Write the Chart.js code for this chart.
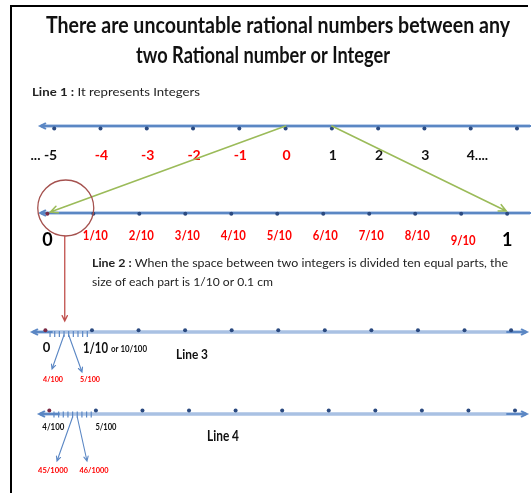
<!DOCTYPE html>
<html>
<head>
<meta charset="utf-8">
<script src="https://cdn.jsdelivr.net/npm/chart.js@4"></script>
<style>
  html, body { margin: 0; padding: 0; background: #fff; }
  canvas { display: block; }
</style>
</head>
<body>
<canvas id="chart" width="531" height="493"></canvas>
<script>
// Line 1: integers
const intValues = [-5, -4, -3, -2, -1, 0, 1, 2, 3, 4, 5];
const intLabelValues = [-5, -4, -3, -2, -1, 0, 1, 2, 3, 4];
const intLabels = ['-5', '-4', '-3', '-2', '-1', '0', '1', '2', '3', '4....'];
const intRed = [false, true, true, true, true, true, false, false, false, false];

// Line 2: tenths between 0 and 1 (units of 1/10)
const tenthValues = [0, 1, 2, 3, 4, 5, 6, 7, 8, 9, 10];
const tenthLabels = ['0', '1/10', '2/10', '3/10', '4/10', '5/10', '6/10', '7/10', '8/10', '9/10', '1'];

// Line 3: hundredths (units of 1/100)
const line3Dots = [0, 10, 20, 30, 40, 50, 60, 70, 80, 90, 100];
const line3Ticks = [1, 2, 3, 4, 5, 6, 7, 8, 9];
const line3Zoom = [4, 5];
const line3ZoomLabels = ['4/100', '5/100'];

// Line 4: thousandths (units of 1/1000)
const line4Dots = [40, 50, 60, 70, 80, 90, 100, 110, 120, 130, 140];
const line4Ticks = [41, 42, 43, 44, 45, 46, 47, 48, 49];
const line4Zoom = [45, 46];
const line4ZoomLabels = ['45/1000', '46/1000'];

const FONT = 'Lato, "Open Sans", sans-serif';
const ROW = [126, 213, 332, 414];
const BLUE = '#5b87c4';
const DOT = '#2b4a80';
const DOT_RED = '#7a2a45';
const GREEN = '#9bbb59';
const RED = '#ff0000';

function txt(ctx, str, x, y, o) {
    ctx.save();
    ctx.font = (o.bold ? 'bold ' : '') + o.size + 'px ' + FONT;
    ctx.fillStyle = o.color || '#000';
    ctx.textBaseline = 'alphabetic';
    ctx.textAlign = o.align || 'left';
    const w = ctx.measureText(str).width;
    const sx = o.width ? o.width / w : 1;
    ctx.translate(x, y);
    ctx.scale(sx, 1);
    ctx.fillText(str, 0, 0);
    ctx.restore();
}

// bold label followed by regular text, squeezed to a given width
function runs(ctx, parts, x, y, size, width) {
    ctx.save();
    const widths = parts.map(p => {
        ctx.font = (p.bold ? 'bold ' : '') + size + 'px ' + FONT;
        return ctx.measureText(p.t).width;
    });
    const sx = width / widths.reduce((a, b) => a + b, 0);
    ctx.translate(x, y);
    ctx.scale(sx, 1);
    let cx = 0;
    parts.forEach((p, i) => {
        ctx.font = (p.bold ? 'bold ' : '') + size + 'px ' + FONT;
        ctx.fillStyle = '#222';
        ctx.fillText(p.t, cx, 0);
        cx += widths[i];
    });
    ctx.restore();
}

function arrow(ctx, x1, y1, x2, y2, color, lw, head) {
    const a = Math.atan2(y2 - y1, x2 - x1);
    ctx.save();
    ctx.strokeStyle = color;
    ctx.lineWidth = lw;
    ctx.lineCap = 'round';
    ctx.beginPath();
    ctx.moveTo(x1, y1);
    ctx.lineTo(x2, y2);
    ctx.moveTo(x2 - head * Math.cos(a - 0.45), y2 - head * Math.sin(a - 0.45));
    ctx.lineTo(x2, y2);
    ctx.lineTo(x2 - head * Math.cos(a + 0.45), y2 - head * Math.sin(a + 0.45));
    ctx.stroke();
    ctx.restore();
}

// number line bodies with arrow heads
const axisLines = {
    id: 'axisLines',
    beforeDatasetsDraw(chart) {
        const ctx = chart.ctx;
        const ends = [[40, 531, false], [40, 531, false], [32, 527, true], [39, 527, true]];
        ends.forEach(([l, r, rightHead], i) => {
            const y = ROW[i];
            ctx.save();
            ctx.strokeStyle = '#a9c1e3';
            ctx.lineWidth = 3.5;
            ctx.beginPath(); ctx.moveTo(l + 1, y); ctx.lineTo(r - 1, y); ctx.stroke();
            ctx.restore();
            arrow(ctx, l + 20, y, l, y, BLUE, 1.8, 6);
            if (rightHead) arrow(ctx, r - 20, y, r, y, BLUE, 1.8, 6);
            else {
                ctx.save();
                ctx.strokeStyle = BLUE; ctx.lineWidth = 1.8;
                ctx.beginPath(); ctx.moveTo(l + 10, y); ctx.lineTo(r, y); ctx.stroke();
                ctx.restore();
            }
        });
    }
};

const overlay = {
    id: 'overlay',
    afterDatasetsDraw(chart) {
        const ctx = chart.ctx;
        const s = chart.scales;

        // frame
        ctx.save();
        ctx.strokeStyle = '#000';
        ctx.lineWidth = 2;
        ctx.beginPath();
        ctx.moveTo(11, 493); ctx.lineTo(11, 6); ctx.lineTo(528, 6);
        ctx.stroke();
        ctx.restore();

        // title and captions
        txt(ctx, 'There are uncountable rational numbers between any', 46, 33, { size: 22, bold: true, color: '#111', width: 464 });
        txt(ctx, 'two Rational number or Integer', 136, 63, { size: 22, bold: true, color: '#111', width: 254 });
        runs(ctx, [{ t: 'Line 1 : ', bold: true }, { t: 'It represents Integers' }], 32, 96, 11, 168);
        runs(ctx, [{ t: 'Line 2 : ', bold: true }, { t: 'When the space between two integers is divided ten equal parts, the' }], 92, 267, 12, 416);
        runs(ctx, [{ t: 'size of each part is 1/10 or 0.1 cm' }], 92, 286, 12, 181);

        // line 1 labels
        intLabelValues.forEach((v, i) => {
            const x = s.x1.getPixelForValue(v);
            const color = intRed[i] ? RED : '#111';
            if (i === 0) {
                txt(ctx, '... ' + intLabels[i], x + 3, 160, { size: 14, bold: true, color, align: 'right' });
            } else if (i === intLabels.length - 1) {
                txt(ctx, intLabels[i], x - 4, 160, { size: 14, bold: true, color });
            } else {
                txt(ctx, intLabels[i], x + 1, 160, { size: 14, bold: true, color, align: 'center' });
            }
        });

        // line 2 labels
        tenthValues.forEach((v, i) => {
            const x = s.x2.getPixelForValue(v);
            if (i === 0 || i === tenthValues.length - 1) {
                txt(ctx, tenthLabels[i], x, 246, { size: 18, bold: true, color: '#000', align: 'center' });
            } else {
                const y = i === 9 ? 245 : 240;
                txt(ctx, tenthLabels[i], x + 2, y, { size: 14, bold: true, color: RED, align: 'center', width: 25 });
            }
        });

        // green arrows from line 1 to line 2
        arrow(ctx, s.x1.getPixelForValue(0), ROW[0], s.x2.getPixelForValue(0) + 3, ROW[1] - 1, GREEN, 1.6, 8);
        arrow(ctx, s.x1.getPixelForValue(1), ROW[0], s.x2.getPixelForValue(10) - 1, ROW[1] - 2, GREEN, 1.6, 8);

        // circle around 0 .. 1/10 and arrow down to line 3
        const cx = s.x2.getPixelForValue(0.4), cy = ROW[1] - 5, r = 28;
        ctx.save();
        ctx.strokeStyle = '#a5524f';
        ctx.lineWidth = 1.3;
        ctx.beginPath(); ctx.arc(cx, cy, r, 0, Math.PI * 2); ctx.stroke();
        ctx.restore();
        arrow(ctx, cx - 1, cy + r, cx - 1, ROW[2] - 11, '#c0504d', 1.3, 6);

        // line 3 labels
        txt(ctx, '0', s.x3.getPixelForValue(0) + 1, 352, { size: 13, bold: true, color: '#111', align: 'center' });
        txt(ctx, '1/10', 83, 353, { size: 15, bold: true, color: '#111', width: 25 });
        txt(ctx, 'or 10/100', 111, 352, { size: 9, bold: true, color: '#111', width: 36 });
        txt(ctx, 'Line 3', 176, 359, { size: 14, bold: true, color: '#111', width: 32 });
        const l3Tips = [[52, 369], [82, 372]];
        line3Zoom.forEach((v, i) => {
            arrow(ctx, s.x3.getPixelForValue(v), ROW[2] + 3, l3Tips[i][0], l3Tips[i][1], BLUE, 1.1, 5);
        });
        txt(ctx, line3ZoomLabels[0], 53, 382, { size: 8, bold: true, color: RED, align: 'center', width: 20 });
        txt(ctx, line3ZoomLabels[1], 90, 382, { size: 8, bold: true, color: RED, align: 'center', width: 20 });

        // line 4 labels
        txt(ctx, '4/100', s.x4.getPixelForValue(40) + 4, 430, { size: 9, bold: true, color: '#111', align: 'center', width: 22 });
        txt(ctx, '5/100', s.x4.getPixelForValue(50) + 10, 430, { size: 9, bold: true, color: '#111', align: 'center', width: 21 });
        txt(ctx, 'Line 4', 207, 441, { size: 15, bold: true, color: '#111', width: 32 });
        const l4Tips = [[57, 461], [87, 461]];
        line4Zoom.forEach((v, i) => {
            arrow(ctx, s.x4.getPixelForValue(v), ROW[3] + 3, l4Tips[i][0], l4Tips[i][1], BLUE, 1.1, 5);
        });
        txt(ctx, line4ZoomLabels[0], 53, 473, { size: 8, bold: true, color: RED, align: 'center', width: 30 });
        txt(ctx, line4ZoomLabels[1], 94, 473, { size: 8, bold: true, color: RED, align: 'center', width: 29 });
    }
};

function dots(values, axis, row) {
    return {
        data: values.map(v => ({ x: v, y: ROW[row] })),
        xAxisID: axis,
        pointRadius: 2,
        pointBorderWidth: 0,
        pointBackgroundColor: values.map((v, i) => (i === 0 && row > 0 ? DOT_RED : DOT))
    };
}

function ticks(values, axis, row) {
    return {
        data: values.map(v => ({ x: v, y: ROW[row] + 4 })),
        xAxisID: axis,
        pointStyle: 'line',
        rotation: 90,
        pointRadius: 3,
        pointBorderColor: BLUE,
        pointBorderWidth: 1.2
    };
}

// linear scale whose pixel 0..531 spans the chart area
function span(v0, p0, perUnit) {
    return { type: 'linear', display: false, min: v0 - p0 / perUnit, max: v0 + (531 - p0) / perUnit };
}

new Chart(document.getElementById('chart'), {
    type: 'scatter',
    data: {
        datasets: [
            dots(intValues, 'x1', 0),
            dots(tenthValues, 'x2', 1),
            ticks(line3Ticks, 'x3', 2),
            dots(line3Dots, 'x3', 2),
            ticks(line4Ticks, 'x4', 3),
            dots(line4Dots, 'x4', 3)
        ]
    },
    options: {
        responsive: false,
        animation: false,
        events: [],
        layout: { padding: 0 },
        plugins: { legend: { display: false }, tooltip: { enabled: false } },
        scales: {
            x1: span(0, 286, 47.2),
            x2: span(0, 43, 46.9),
            x3: span(0, 41, 4.75),
            x4: span(40, 45, 4.75),
            y: { type: 'linear', display: false, reverse: true, min: 0, max: 493 }
        }
    },
    plugins: [axisLines, overlay]
});
</script>
</body>
</html>
